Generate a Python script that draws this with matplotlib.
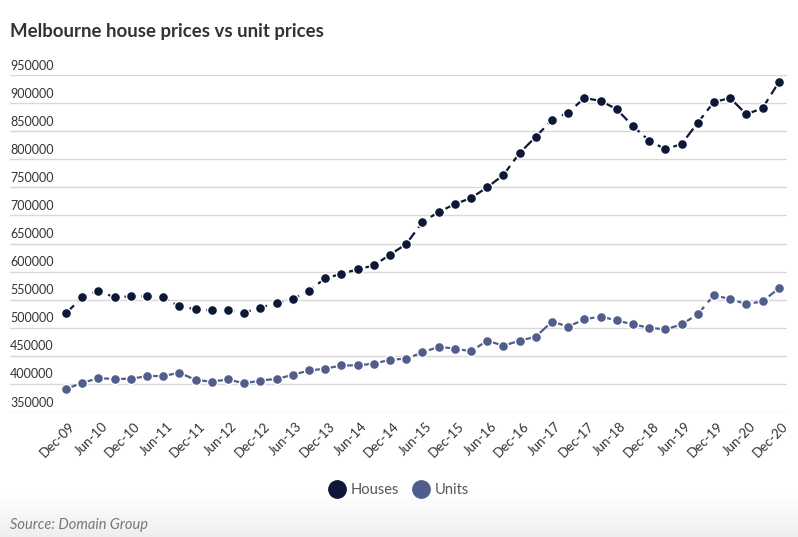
import numpy as np
import matplotlib
matplotlib.use('Agg')
import matplotlib.pyplot as plt
import matplotlib.transforms as mtransforms
from matplotlib.lines import Line2D

# quarterly medians, Dec-09 .. Dec-20
QUARTERS = [f'{m}-{y:02d}' for y in range(9, 21) for m in ('Mar', 'Jun', 'Sep', 'Dec')][3:]
HOUSES = [526000, 554000, 566000, 554000, 556000, 556000, 554000, 538000, 533000, 531000,
          531000, 527000, 536000, 544000, 551000, 566000, 588000, 596000, 604000, 611000,
          630000, 649000, 688000, 706000, 720000, 731000, 750000, 772000, 811000, 840000,
          870000, 883000, 909000, 904000, 889000, 859000, 833000, 818000, 827000, 865000,
          902000, 909000, 880000, 891000, 937000]
UNITS = [391000, 402000, 410000, 409000, 409000, 414000, 414000, 420000, 407000, 404000,
         408000, 401000, 406000, 409000, 416000, 424000, 427000, 433000, 433000, 436000,
         443000, 445000, 456000, 466000, 463000, 458000, 477000, 468000, 477000, 484000,
         511000, 502000, 515000, 520000, 513000, 506000, 500000, 497000, 506000, 524000,
         558000, 551000, 542000, 547000, 570000]
Y_TICKS = list(range(350000, 950001, 50000))

HOUSE_COL = '#0c1836'
UNIT_COL = '#4f5e8d'
GRID_COL = '#d8d8d8'
TEXT_COL = '#333333'
FONT = 'Lato'

plt.rcParams['font.family'] = [FONT, 'DejaVu Sans']

W, H = 798, 537
fig = plt.figure(figsize=(W / 100, H / 100), dpi=100)
fig.patch.set_facecolor('white')

# footer: soft white -> light grey fade
bg = fig.add_axes([0, 0, 1, 42 / H], zorder=-5)
shade = np.linspace(1.0, 0.935, 64)
grad = np.repeat(shade[:, None, None], 3, axis=2)
bg.imshow(grad, aspect='auto', extent=[0, 1, 0, 1], interpolation='bilinear')
bg.axis('off')

ax = fig.add_axes([10 / W, 1 - 412 / H, 777 / W, 337 / H])
x = np.arange(len(QUARTERS))
line_kw = dict(lw=1.6, dashes=(5, 2.6), marker='o', ms=7.2, mec='white', mew=1.0)
ax.plot(x, HOUSES, color=HOUSE_COL, mfc=HOUSE_COL, zorder=3, **line_kw)
ax.plot(x, UNITS, color=UNIT_COL, mfc=UNIT_COL, zorder=3, **line_kw)

ax.set_xlim(-3.46, len(x) - 1 + 0.51)
ax.set_ylim(Y_TICKS[0], Y_TICKS[-1])
ax.patch.set_alpha(0)
for s in ax.spines.values():
    s.set_visible(False)

ax.set_yticks(Y_TICKS)
ax.set_yticklabels([])
ax.tick_params(axis='y', length=0)
ax.grid(axis='y', color=GRID_COL, lw=1)
ax.set_axisbelow(True)
trans = mtransforms.blended_transform_factory(ax.transAxes, ax.transData)
for v in Y_TICKS:
    ax.annotate(str(v), (0, v), xycoords=trans, xytext=(0, 2.5), textcoords='offset points',
                ha='left', va='bottom', fontsize=9, color=TEXT_COL)

ax.set_xticks(x[::2])
ax.set_xticklabels(QUARTERS[::2], rotation=45, ha='right', va='top',
                   rotation_mode='anchor', fontsize=9.5, color=TEXT_COL)
ax.tick_params(axis='x', length=0, pad=6)
for lbl in ax.get_xticklabels():
    lbl.set_transform(lbl.get_transform() + mtransforms.ScaledTranslation(3 / 100, 0, fig.dpi_scale_trans))

fig.text(10 / W, 1 - 31 / H, 'Melbourne house prices vs unit prices', fontsize=13.4,
         fontweight='bold', color=TEXT_COL, va='center', ha='left')

handles = [Line2D([], [], ls='none', marker='o', ms=12.5, color=HOUSE_COL, label='Houses'),
           Line2D([], [], ls='none', marker='o', ms=12.5, color=UNIT_COL, label='Units')]
fig.legend(handles=handles, loc='center', bbox_to_anchor=(0.5, 1 - 490 / H), ncol=2,
           frameon=False, fontsize=10.5, handletextpad=0.35, columnspacing=0.9,
           labelcolor='#555555', handlelength=1.2)

fig.text(10 / W, 1 - 525 / H, 'Source: Domain Group', fontsize=10.5, style='italic',
         color='#777777', va='center', ha='left')

fig.savefig('out.png', dpi=100)
